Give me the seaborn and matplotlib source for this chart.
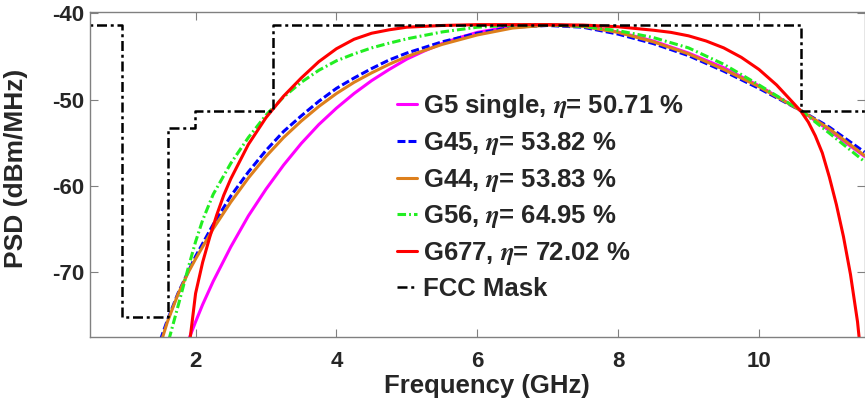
import matplotlib
matplotlib.use('Agg')
import matplotlib.pyplot as plt
import seaborn as sns

# frequency (GHz) / PSD (dBm/MHz)
f_g5 = [1.90, 2.0, 2.1, 2.25, 2.5, 2.75, 3.0, 3.25, 3.5, 3.75, 4.0, 4.25, 4.5, 4.75, 5.0, 5.25, 5.5, 5.75, 6.0, 6.5, 7.0, 7.5, 8.0, 8.5, 9.0, 9.5, 10.0, 10.6, 11.0, 11.5]
p_g5 = [-77.9, -75.8, -73.8, -71.1, -67.1, -63.5, -60.4, -57.6, -55.1, -52.9, -51.0, -49.3, -47.8, -46.5, -45.3, -44.35, -43.5, -42.8, -42.2, -41.5, -41.3, -41.5, -42.15, -43.2, -44.6, -46.3, -48.4, -51.3, -53.6, -56.6]

f_g45 = [1.50, 1.6, 1.75, 1.9, 2.0, 2.25, 2.5, 2.75, 3.0, 3.25, 3.5, 3.75, 4.0, 4.25, 4.5, 4.75, 5.0, 5.5, 6.0, 6.5, 7.0, 7.5, 8.0, 8.5, 9.0, 9.5, 10.0, 10.6, 11.0, 11.5]
p_g45 = [-77.9, -75.6, -72.5, -69.9, -68.2, -64.5, -61.2, -58.4, -55.9, -53.7, -51.9, -50.2, -48.7, -47.5, -46.4, -45.4, -44.6, -43.3, -42.3, -41.6, -41.4, -41.6, -42.4, -43.5, -44.9, -46.7, -48.7, -51.3, -53.2, -56.1]

f_g44 = [1.52, 1.6, 1.75, 1.9, 2.0, 2.25, 2.5, 2.75, 3.0, 3.25, 3.5, 3.75, 4.0, 4.25, 4.5, 4.75, 5.0, 5.5, 6.0, 6.5, 7.0, 7.5, 8.0, 8.5, 9.0, 9.5, 10.0, 10.6, 11.0, 11.5]
p_g44 = [-77.9, -75.8, -72.6, -70.0, -68.5, -65.0, -61.9, -59.1, -56.6, -54.4, -52.5, -50.8, -49.3, -48.0, -46.9, -45.9, -45.0, -43.6, -42.5, -41.7, -41.35, -41.5, -42.2, -43.3, -44.7, -46.5, -48.5, -51.3, -53.4, -56.5]

f_g56 = [1.62, 1.75, 1.9, 2.0, 2.1, 2.25, 2.5, 2.75, 3.0, 3.25, 3.5, 3.75, 4.0, 4.25, 4.5, 4.75, 5.0, 5.5, 6.0, 6.5, 7.0, 7.5, 8.0, 8.5, 9.0, 9.5, 10.0, 10.6, 11.0, 11.5]
p_g56 = [-77.9, -74.0, -69.4, -66.5, -64.0, -61.0, -57.4, -54.4, -51.8, -49.7, -48.0, -46.6, -45.5, -44.7, -44.0, -43.45, -42.95, -42.15, -41.6, -41.35, -41.3, -41.5, -42.0, -42.8, -44.0, -45.9, -48.3, -51.3, -53.9, -57.2]

f_g677 = [1.92, 2.0, 2.1, 2.2, 2.3, 2.4, 2.5, 2.75, 3.0, 3.25, 3.5, 3.75, 4.0, 4.25, 4.5, 4.75, 5.0, 5.5, 6.0, 6.5, 7.0, 7.5, 8.0, 8.5, 8.75, 9.0, 9.25, 9.5, 9.75, 10.0, 10.25, 10.5, 10.6, 10.7, 10.8, 10.9, 11.0, 11.1, 11.2, 11.3, 11.4, 11.43]
p_g677 = [-77.9, -72.5, -68.9, -66.0, -63.4, -61.1, -59.2, -55.2, -52.1, -49.6, -47.5, -45.6, -44.1, -43.0, -42.3, -41.9, -41.6, -41.4, -41.3, -41.3, -41.3, -41.35, -41.55, -41.95, -42.2, -42.6, -43.2, -44.0, -45.1, -46.5, -48.3, -50.5, -51.4, -52.6, -54.2, -56.2, -59.0, -62.2, -65.9, -70.3, -75.8, -78.2]

f_mask = [0.3, 0.96, 1.61, 1.99, 3.1, 10.6, 11.7]
p_mask = [-41.3, -75.3, -53.3, -51.3, -41.3, -51.3, -51.3]

labels = ['G5 single, $\\eta$= 50.71 %', 'G45, $\\eta$= 53.82 %', 'G44, $\\eta$= 53.83 %',
          'G56, $\\eta$= 64.95 %', 'G677, $\\eta$= 72.02 %', 'FCC Mask']

sns.set_style('ticks')
plt.rcParams['font.family'] = ['Liberation Sans', 'DejaVu Sans']
plt.rcParams['font.weight'] = 'bold'
plt.rcParams['mathtext.fontset'] = 'stix'
plt.rcParams['axes.unicode_minus'] = False

fig = plt.figure(figsize=(8.65, 3.98), dpi=100)
ax = fig.add_axes([0.104, 0.1525, 0.8955, 0.8181])

lw = 2.2
sns.lineplot(x=f_g5, y=p_g5, ax=ax, color='#FF00FF', lw=lw, label=labels[0])
sns.lineplot(x=f_g45, y=p_g45, ax=ax, color='#0000FF', lw=lw, dashes=(2.6, 1.0), label=labels[1])
sns.lineplot(x=f_g44, y=p_g44, ax=ax, color='#DD7F1C', lw=lw, label=labels[2])
sns.lineplot(x=f_g56, y=p_g56, ax=ax, color='#22EE22', lw=lw, dashes=(2.8, 1.0, 0.6, 1.0), label=labels[3])
sns.lineplot(x=f_g677, y=p_g677, ax=ax, color='#FF0000', lw=lw, label=labels[4])
sns.lineplot(x=f_mask, y=p_mask, ax=ax, color='black', lw=1.8, drawstyle='steps-post',
             dashes=(4, 1.5, 1.2, 1.5), label=labels[5])

ax.set_xlim(0.5, 11.5)
ax.set_ylim(-77.6, -39.8)
ax.set_xticks([2, 4, 6, 8, 10])
ax.set_yticks([-70, -60, -50, -40])

for s in ax.spines.values():
    s.set_visible(True)
    s.set_color('#808080')
    s.set_linewidth(1.0)
ax.tick_params(direction='in', length=5.5, width=0.8, color='#808080',
               top=True, right=True, labelsize=16, labelcolor='#262626')
ax.tick_params(axis='x', pad=10)
ax.tick_params(axis='y', pad=4)
for t in ax.get_xticklabels() + ax.get_yticklabels():
    t.set_fontweight('bold')

ax.set_xlabel('Frequency (GHz)', fontsize=18.5, fontweight='bold', color='#262626')
ax.xaxis.set_label_coords(0.512, -0.112)
ax.set_ylabel('PSD (dBm/MHz)', fontsize=19, fontweight='bold', color='#262626')
ax.yaxis.set_label_coords(-0.080, 0.52)

leg = ax.legend(loc='upper left', bbox_to_anchor=(0.383, 0.785), frameon=False,
                fontsize=18.5, handlelength=0.8, handletextpad=0.2,
                labelspacing=0.38, borderaxespad=0)
for t in leg.get_texts():
    t.set_fontweight('bold')

plt.savefig('out.png', dpi=100)
